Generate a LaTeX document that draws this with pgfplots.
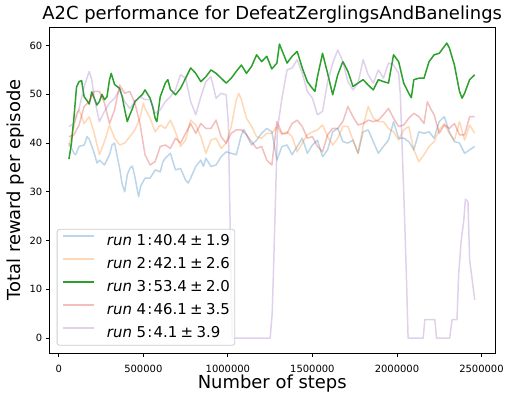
\documentclass[border=0pt]{standalone}
\usepackage{fontspec}
\setmainfont{DejaVu Sans}
\usepackage{pgfplots}
\pgfplotsset{compat=1.18}
\definecolor{c1}{HTML}{1F77B4}
\definecolor{c2}{HTML}{FF7F0E}
\definecolor{c3}{HTML}{2CA02C}
\definecolor{c4}{HTML}{D62728}
\definecolor{c5}{HTML}{9467BD}
\definecolor{legedge}{HTML}{CCCCCC}
\newcommand{\runlbl}[2]{\textit{run}\hspace{0.318em}#1\hspace{0.08em}:\hspace{0.08em}#2}
\begin{document}
\begin{tikzpicture}
\path[use as bounding box] (-49.5bp,-46bp) rectangle (460.5bp,353bp);
\begin{axis}[
  at={(0,0)}, anchor=south west,
  scale only axis, width=445.5bp, height=326bp,
  xmin=-55000, xmax=2580000, ymin=-3.05, ymax=63.8,
  xtick={0,500000,1000000,1500000,2000000,2500000},
  xticklabels={0,500000,1000000,1500000,2000000,2500000},
  scaled x ticks=false,
  ytick={0,10,20,30,40,50,60},
  tick pos=left, tick align=outside,
  major tick length=3.5bp,
  tick style={line width=0.8bp, black},
  axis line style={line width=0.8bp, black},
  ticklabel style={font=\fontsize{10}{12}\selectfont, inner sep=0pt},
  xticklabel style={anchor=north, yshift=-8bp},
  yticklabel style={anchor=east, xshift=-3.5bp},
  /pgf/number format/assume math mode=true,
  every axis plot/.append style={line width=1.5bp, line join=round},
  legend style={at={(0,0)}, anchor=south west, xshift=7.2bp, yshift=7.3bp,
    draw=legedge, line width=0.8bp, rounded corners=2.5bp, fill=white, fill opacity=0.8, text opacity=1, draw opacity=1,
    font=\fontsize{15}{18}\selectfont, inner xsep=5bp, inner ysep=5bp,
    row sep=9bp,
    nodes={inner sep=0pt, text height=11bp, text depth=3bp}},
  legend cell align=left,
  legend image code/.code={\path (0bp,0bp); \draw[#1, line width=1.8bp] (0bp,5bp) -- (31bp,5bp);},
  /tikz/every odd column/.append style={column sep=12bp},
]
\addplot[c1, draw opacity=0.3] coordinates {
(60000,40.0)(90000,37.9)(100000,37.6)(120000,39.3)(150000,39.6)(167000,41.3)(180000,40.8)(210000,37.9)(226000,35.9)(240000,36.5)(270000,35.5)(300000,37.6)(315000,39.6)(330000,40.0)(360000,34.8)(374000,31.7)(390000,30.0)(405000,33.5)(420000,34.8)(435000,35.3)(450000,33.1)(472000,29.0)(485000,31.2)(510000,32.8)(540000,32.8)(570000,34.5)(600000,34.1)(615000,36.1)(630000,36.9)(660000,37.9)(675000,36.2)(690000,34.5)(720000,34.8)(750000,32.4)(765000,31.8)(780000,32.8)(810000,35.2)(840000,36.5)(855000,35.2)(870000,36.9)(900000,35.2)(930000,35.5)(960000,37.2)(990000,38.2)(1020000,37.9)(1050000,37.6)(1080000,41.7)(1095000,42.8)(1110000,41.7)(1140000,39.6)(1170000,40.6)(1200000,42.0)(1230000,43.0)(1260000,42.3)(1275000,39.5)(1290000,36.5)(1320000,39.3)(1350000,39.6)(1380000,37.6)(1410000,39.3)(1440000,41.0)(1470000,37.9)(1500000,39.6)(1530000,40.6)(1560000,37.2)(1590000,38.6)(1620000,42.3)(1650000,43.0)(1680000,40.3)(1710000,40.0)(1740000,40.6)(1770000,37.9)(1800000,42.3)(1830000,42.7)(1860000,40.3)(1890000,37.9)(1920000,39.3)(1950000,40.6)(1980000,44.4)(2010000,41.0)(2040000,41.0)(2070000,40.3)(2100000,38.6)(2130000,42.3)(2160000,42.0)(2190000,42.3)(2220000,41.0)(2250000,44.4)(2280000,45.4)(2310000,42.3)(2340000,40.3)(2370000,40.0)(2400000,37.9)(2430000,38.6)(2460000,39.3)
};
\addlegendentry{\runlbl{1}{40.4\hspace{0.22em}±\hspace{0.22em}1.9}}
\addplot[c2, draw opacity=0.3] coordinates {
(60000,39.3)(90000,43.4)(105000,46.0)(120000,46.8)(150000,44.0)(180000,45.4)(210000,42.0)(240000,37.6)(270000,40.3)(300000,43.7)(330000,41.0)(360000,39.6)(390000,40.0)(420000,41.3)(450000,42.7)(480000,45.1)(500000,48.2)(510000,47.1)(540000,45.1)(570000,42.3)(600000,43.7)(630000,43.0)(660000,44.7)(690000,42.3)(720000,39.3)(750000,40.6)(780000,44.7)(810000,43.7)(840000,41.3)(870000,37.9)(900000,40.6)(930000,41.0)(960000,38.9)(990000,40.0)(1020000,43.4)(1050000,48.9)(1065000,50.2)(1080000,48.9)(1110000,45.1)(1140000,43.4)(1170000,41.3)(1200000,41.0)(1230000,42.0)(1260000,42.0)(1290000,43.4)(1320000,41.7)(1350000,42.3)(1380000,41.3)(1410000,38.2)(1440000,40.0)(1470000,41.7)(1500000,42.3)(1530000,42.7)(1560000,43.7)(1590000,41.3)(1620000,39.6)(1650000,41.0)(1680000,43.4)(1710000,43.4)(1740000,40.6)(1770000,37.9)(1800000,43.4)(1830000,47.5)(1860000,45.1)(1890000,44.4)(1920000,44.4)(1950000,43.0)(1980000,42.3)(2010000,40.6)(2040000,42.7)(2070000,43.4)(2100000,38.6)(2130000,36.2)(2160000,37.6)(2190000,39.3)(2220000,40.3)(2250000,42.7)(2280000,44.0)(2310000,42.0)(2340000,40.6)(2370000,44.4)(2400000,40.6)(2430000,43.7)(2460000,42.0)
};
\addlegendentry{\runlbl{2}{42.1\hspace{0.22em}±\hspace{0.22em}2.6}}
\addplot[c3] coordinates {
(60000,36.7)(75000,40.0)(90000,45.4)(105000,51.5)(120000,52.6)(135000,52.8)(150000,49.5)(165000,48.8)(180000,48.0)(195000,50.5)(210000,49.2)(225000,47.8)(240000,48.5)(255000,50.0)(270000,48.9)(285000,49.5)(300000,53.0)(310000,54.3)(330000,52.0)(360000,51.2)(375000,49.5)(390000,46.8)(405000,44.4)(420000,45.8)(435000,47.0)(450000,48.5)(480000,49.5)(495000,50.0)(510000,50.9)(540000,49.2)(555000,47.5)(570000,45.1)(580000,44.4)(600000,49.5)(630000,52.3)(645000,53.0)(660000,51.0)(690000,49.9)(720000,51.2)(750000,53.3)(780000,55.4)(810000,54.3)(840000,52.6)(870000,53.6)(900000,55.0)(930000,54.3)(960000,53.3)(990000,52.3)(1020000,53.3)(1050000,54.7)(1080000,56.0)(1110000,54.3)(1140000,55.7)(1170000,58.1)(1200000,56.7)(1230000,57.8)(1260000,55.2)(1290000,56.4)(1305000,60.3)(1320000,59.0)(1350000,56.4)(1380000,57.8)(1410000,58.8)(1440000,55.4)(1470000,52.6)(1500000,51.2)(1515000,50.6)(1530000,53.6)(1560000,58.4)(1590000,54.3)(1620000,49.9)(1650000,54.0)(1680000,56.7)(1710000,54.7)(1740000,51.6)(1770000,52.3)(1800000,53.0)(1830000,51.9)(1860000,50.9)(1890000,53.0)(1920000,52.6)(1950000,52.3)(1980000,58.1)(2010000,56.7)(2040000,52.3)(2070000,50.2)(2085000,49.3)(2100000,53.0)(2130000,53.3)(2160000,53.3)(2190000,56.7)(2220000,58.1)(2250000,58.4)(2280000,59.8)(2295000,60.5)(2310000,59.5)(2340000,56.0)(2370000,50.6)(2385000,49.2)(2400000,50.2)(2430000,53.0)(2460000,54.0)
};
\addlegendentry{\runlbl{3}{53.4\hspace{0.22em}±\hspace{0.22em}2.0}}
\addplot[c4, draw opacity=0.3] coordinates {
(60000,41.3)(90000,41.7)(120000,43.7)(150000,47.5)(180000,48.5)(210000,50.6)(240000,50.6)(270000,48.2)(300000,44.0)(330000,46.8)(360000,51.9)(390000,50.2)(420000,50.6)(450000,48.2)(480000,44.0)(510000,37.6)(540000,35.5)(570000,36.2)(600000,39.3)(630000,39.6)(660000,38.9)(690000,41.0)(720000,40.0)(750000,42.0)(780000,44.0)(810000,42.0)(840000,44.0)(870000,43.0)(900000,43.0)(930000,44.7)(960000,41.3)(990000,40.0)(1020000,42.0)(1050000,42.7)(1080000,42.7)(1110000,41.7)(1140000,40.3)(1170000,38.9)(1200000,39.3)(1230000,36.5)(1260000,35.5)(1290000,44.4)(1320000,42.0)(1350000,42.0)(1380000,44.0)(1410000,44.7)(1440000,43.4)(1470000,41.0)(1500000,41.3)(1530000,39.3)(1560000,38.2)(1590000,41.7)(1620000,43.0)(1650000,43.0)(1680000,44.4)(1710000,47.5)(1740000,45.4)(1770000,43.7)(1800000,44.0)(1830000,44.7)(1860000,44.4)(1890000,44.7)(1920000,45.8)(1950000,47.1)(1980000,45.1)(2010000,43.4)(2040000,43.7)(2070000,45.1)(2100000,46.1)(2130000,45.4)(2160000,44.0)(2180000,48.5)(2200000,47.0)(2220000,45.8)(2250000,42.0)(2280000,43.7)(2310000,43.0)(2340000,44.0)(2370000,41.7)(2400000,41.7)(2430000,45.4)(2460000,45.4)
};
\addlegendentry{\runlbl{4}{46.1\hspace{0.22em}±\hspace{0.22em}3.5}}
\addplot[c5, draw opacity=0.3] coordinates {
(60000,43.4)(90000,44.0)(120000,47.1)(150000,51.6)(180000,54.7)(195000,53.0)(210000,49.2)(240000,44.4)(270000,46.5)(300000,48.2)(330000,49.2)(360000,50.9)(390000,48.5)(420000,47.1)(450000,48.5)(480000,49.5)(510000,48.9)(540000,48.9)(570000,46.1)(600000,46.8)(630000,48.5)(660000,49.5)(690000,50.9)(720000,54.0)(750000,53.3)(780000,48.5)(810000,45.8)(840000,49.5)(870000,52.6)(900000,53.6)(930000,49.2)(960000,50.2)(990000,49.9)(1003000,44.0)(1015000,20.0)(1026000,0)(1250000,0)(1262000,5)(1270000,14)(1293000,42.7)(1300000,44.5)(1320000,49.2)(1350000,55.0)(1380000,55.4)(1410000,57.1)(1440000,54.3)(1470000,50.6)(1500000,49.2)(1530000,45.8)(1560000,46.5)(1590000,52.6)(1620000,56.4)(1650000,59.1)(1680000,56.7)(1710000,52.6)(1740000,50.9)(1770000,52.3)(1800000,57.1)(1830000,54.0)(1860000,52.3)(1890000,55.0)(1920000,53.3)(1950000,56.4)(1980000,56.0)(2010000,54.3)(2020000,50.0)(2040000,30.0)(2055000,14.0)(2066000,0)(2155000,0)(2165000,3.8)(2224000,3.8)(2234000,0)(2312000,0)(2326000,3.8)(2355000,3.8)(2365000,13)(2380000,20)(2395000,24)(2405000,28.5)(2420000,28)(2430000,16)(2445000,12)(2460000,7.8)
};
\addlegendentry{\runlbl{5}{4.1\hspace{0.22em}±\hspace{0.22em}3.9}}
\end{axis}
\node[anchor=base, inner sep=0pt, font=\fontsize{18}{21}\selectfont] at (222.75bp,333bp) {A2C performance for DefeatZerglingsAndBanelings};
\node[anchor=base, inner sep=0pt, font=\fontsize{18}{21}\selectfont] at (222.75bp,-35bp) {Number of steps};
\node[anchor=base, rotate=90, inner sep=0pt, font=\fontsize{18}{21}\selectfont] at (-29bp,163bp) {Total reward per episode};
\end{tikzpicture}
\end{document}
